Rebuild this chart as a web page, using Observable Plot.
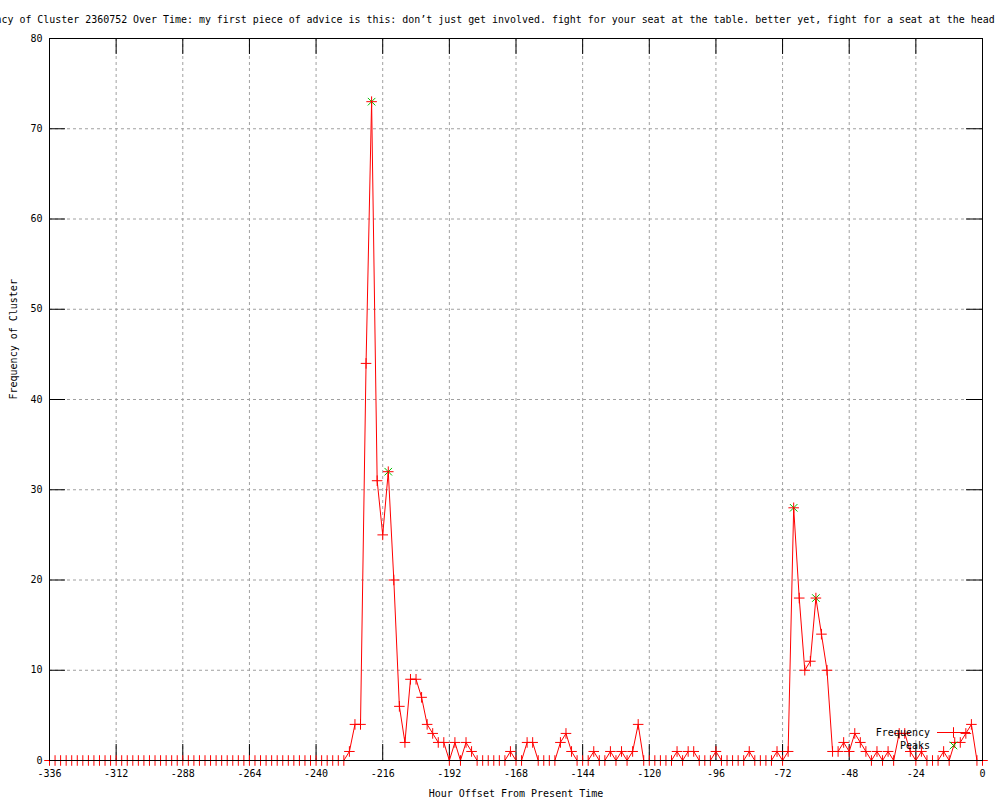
<!DOCTYPE html>
<html><head><meta charset="utf-8">
<script src="https://cdn.jsdelivr.net/npm/d3@7"></script>
<script src="https://cdn.jsdelivr.net/npm/@observablehq/plot@0.6"></script>
<style>
html,body{margin:0;padding:0;background:#fff;overflow:hidden;}
#chart svg{display:block;}
</style></head><body><div id="chart"></div>
<script>
const hours = [
  -336,-334,-332,-330,-328,-326,-324,-322,-320,-318,-316,-314,
  -312,-310,-308,-306,-304,-302,-300,-298,-296,-294,-292,-290,
  -288,-286,-284,-282,-280,-278,-276,-274,-272,-270,-268,-266,
  -264,-262,-260,-258,-256,-254,-252,-250,-248,-246,-244,-242,
  -240,-238,-236,-234,-232,-230,-228,-226,-224,-222,-220,-218,
  -216,-214,-212,-210,-208,-206,-204,-202,-200,-198,-196,-194,
  -192,-190,-188,-186,-184,-182,-180,-178,-176,-174,-172,-170,
  -168,-166,-164,-162,-160,-158,-156,-154,-152,-150,-148,-146,
  -144,-142,-140,-138,-136,-134,-132,-130,-128,-126,-124,-122,
  -120,-118,-116,-114,-112,-110,-108,-106,-104,-102,-100,-98,
  -96,-94,-92,-90,-88,-86,-84,-82,-80,-78,-76,-74,
  -72,-70,-68,-66,-64,-62,-60,-58,-56,-54,-52,-50,
  -48,-46,-44,-42,-40,-38,-36,-34,-32,-30,-28,-26,
  -24,-22,-20,-18,-16,-14,-12,-10,-8,-6,-4,-2,
  0
];
const frequency = [
  0,0,0,0,0,0,0,0,0,0,0,0,
  0,0,0,0,0,0,0,0,0,0,0,0,
  0,0,0,0,0,0,0,0,0,0,0,0,
  0,0,0,0,0,0,0,0,0,0,0,0,
  0,0,0,0,0,0,1,4,4,44,73,31,
  25,32,20,6,2,9,9,7,4,3,2,2,
  0,2,0,2,1,0,0,0,0,0,0,1,
  0,0,2,2,0,0,0,0,2,3,1,0,
  0,0,1,0,0,1,0,1,0,1,4,0,
  0,0,0,0,0,1,0,1,1,0,0,0,
  1,0,0,0,0,0,1,0,0,0,0,1,
  0,1,28,18,10,11,18,14,10,1,1,2,
  1,3,2,1,0,1,0,1,0,3,3,1,
  0,1,0,0,0,1,0,2,2,3,4,0,
  0
];
const peakHours = [-220, -214, -68, -60];
const peakValues = [73, 32, 28, 18];
const xTicks = [-336,-312,-288,-264,-240,-216,-192,-168,-144,-120,-96,-72,-48,-24,0];
const yTicks = [0,10,20,30,40,50,60,70,80];
const titleText = "Frequency of Cluster 2360752 Over Time: my first piece of advice is this: don\u2019t just get involved. fight for your seat at the table. better yet, fight for a seat at the head of the table.";
const xLabel = "Hour Offset From Present Time";
const yLabel = "Frequency of Cluster";
const legendLabels = ["Frequency", "Peaks"];

const data = hours.map((h, i) => ({hour: h, freq: frequency[i]}));
const peaks = peakHours.map((h, i) => ({hour: h, freq: peakValues[i]}));

const W = 1000, H = 800, mL = 49, mR = 18, mT = 38, mB = 40;
const FW = W - mL - mR, FH = H - mT - mB;
const TICK = 16;
const font = "'DejaVu Sans Mono', monospace";
const RED = "#ff0000", GREEN = "#00c000", GRID = "#a0a0a0";

const plot = Plot.plot({
  width: W, height: H,
  marginLeft: mL, marginRight: mR, marginTop: mT, marginBottom: mB,
  style: {fontFamily: font, fontSize: "10px", background: "white", color: "black"},
  x: {domain: [-336, 0], axis: null},
  y: {domain: [0, 80], axis: null},
  marks: [
    Plot.gridX(xTicks, {x: d => d, stroke: GRID, strokeOpacity: 1, strokeDasharray: "3,3"}),
    Plot.gridY(yTicks, {y: d => d, stroke: GRID, strokeOpacity: 1, strokeDasharray: "3,3"}),
    Plot.tickX(xTicks, {x: d => d, insetTop: FH - TICK, stroke: "black"}),
    Plot.tickX(xTicks, {x: d => d, insetBottom: FH - TICK, stroke: "black"}),
    Plot.tickY(yTicks, {y: d => d, insetRight: FW - TICK, stroke: "black"}),
    Plot.tickY(yTicks, {y: d => d, insetLeft: FW - TICK, stroke: "black"}),
    Plot.axisX(xTicks, {tickSize: 0, tickPadding: 9, tickFormat: d => String(d), label: null}),
    Plot.axisY(yTicks, {tickSize: 0, tickPadding: 7, tickFormat: d => String(d), label: null}),
    Plot.text([xLabel], {text: d => d, frameAnchor: "bottom", dy: 33, lineAnchor: "middle"}),
    Plot.text([yLabel], {text: d => d, frameAnchor: "left", dx: -36, rotate: -90, lineAnchor: "middle"}),
    Plot.text([titleText], {text: d => d, frameAnchor: "top", dx: 3, dy: -19, lineAnchor: "middle", fontSize: 9.95}),
    Plot.line(data, {x: "hour", y: "freq", stroke: RED, strokeWidth: 1}),
    Plot.dot(peaks, {x: "hour", y: "freq", symbol: "times", stroke: GREEN, r: 3.5, strokeWidth: 1}),
    Plot.dot(data, {x: "hour", y: "freq", symbol: "plus", stroke: RED, r: 3.5, strokeWidth: 1}),
    Plot.frame({stroke: "black"})
  ]
});
document.getElementById("chart").appendChild(plot);

// legend (gnuplot-style key, bottom right inside the frame)
const svg = d3.select(plot);
const fx = mL + FW, fy = mT + FH;
const g = svg.append("g").attr("font-family", font).attr("font-size", 10);
g.append("text").attr("x", fx - 52).attr("y", fy - 27).attr("dy", "0.32em")
  .attr("text-anchor", "end").attr("fill", "black").text(legendLabels[0]);
g.append("line").attr("x1", fx - 45).attr("x2", fx - 12)
  .attr("y1", fy - 27.5).attr("y2", fy - 27.5).attr("stroke", RED);
g.append("path").attr("d", d3.symbol(d3.symbolPlus, Math.PI * 3.5 * 3.5)())
  .attr("transform", `translate(${fx - 28.5},${fy - 27.5})`).attr("stroke", RED).attr("fill", "none");
g.append("text").attr("x", fx - 52).attr("y", fy - 14).attr("dy", "0.32em")
  .attr("text-anchor", "end").attr("fill", "black").text(legendLabels[1]);
g.append("path").attr("d", d3.symbol(d3.symbolTimes, Math.PI * 3.5 * 3.5)())
  .attr("transform", `translate(${fx - 28.5},${fy - 14.5})`).attr("stroke", GREEN).attr("fill", "none");
</script>
</body></html>
